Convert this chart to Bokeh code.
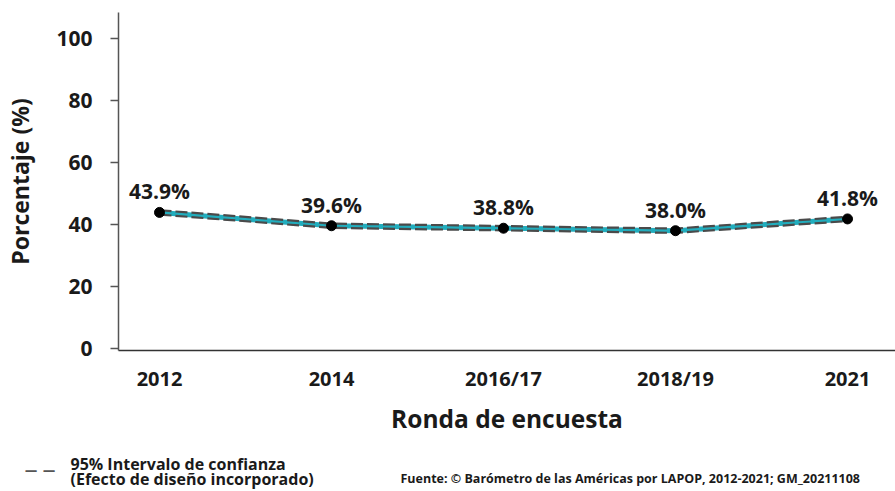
from bokeh.plotting import figure
from bokeh.models import ColumnDataSource, FixedTicker, Range1d, Label, LabelSet
from bokeh.layouts import column
from bokeh.core.properties import value
from bokeh.embed import file_html
from bokeh.resources import INLINE

# ---- data ----
rounds = ["2012", "2014", "2016/17", "2018/19", "2021"]
pct = [43.9, 39.6, 38.8, 38.0, 41.8]
ci_low = [43.2, 38.9, 38.1, 37.3, 41.1]
ci_high = [44.6, 40.3, 39.5, 38.7, 42.5]
y_ticks = [0, 20, 40, 60, 80, 100]

FONT = "Open Sans"
TXT = "#1a1a1a"
xs = list(range(len(rounds)))
src = ColumnDataSource(dict(x=xs, y=pct, lo=ci_low, hi=ci_high,
                            lab=[f"{v:.1f}%" for v in pct]))

p = figure(width=895, height=440, output_backend="svg", toolbar_location=None,
           x_range=Range1d(-0.2384, 4.279), y_range=Range1d(-0.65, 108.4),
           min_border_left=118, min_border_right=0, min_border_top=12,
           min_border_bottom=90)
p.frame_align = False
p.outline_line_color = None
p.xgrid.grid_line_color = None
p.ygrid.grid_line_color = None

# lines
p.line("x", "y", source=src, line_color="#22adbd", line_width=5)
p.line("x", "lo", source=src, line_color="#4a4a4a", line_width=2.2, line_dash="12 4")
p.line("x", "hi", source=src, line_color="#4a4a4a", line_width=2.2, line_dash="12 4")
p.scatter("x", "y", source=src, size=10, fill_color="black", line_color="black")

p.add_layout(LabelSet(x="x", y="y", text="lab", source=src, y_offset=21,
                      text_align="center", text_baseline="middle",
                      text_font=value(FONT), text_font_size=value("21px"),
                      text_font_style=value("bold"), text_color=value(TXT)))

# x axis
xa = p.xaxis[0]
xa.ticker = FixedTicker(ticks=xs)
xa.major_label_overrides = {i: r for i, r in zip(xs, rounds)}
xa.major_tick_line_color = None
xa.minor_tick_line_color = None
xa.major_tick_out = 0
xa.major_tick_in = 0
xa.axis_line_color = "#333333"
xa.axis_line_width = 1.5
xa.major_label_text_font = FONT
xa.major_label_text_font_size = "20px"
xa.major_label_text_font_style = "bold"
xa.major_label_text_color = TXT
xa.major_label_standoff = 14
xa.axis_label = "Ronda de encuesta"
xa.axis_label_text_font = FONT
xa.axis_label_text_font_size = "24.5px"
xa.axis_label_text_font_style = "bold"
xa.axis_label_text_color = TXT
xa.axis_label_standoff = 7

# y axis
ya = p.yaxis[0]
ya.ticker = FixedTicker(ticks=y_ticks)
ya.minor_tick_line_color = None
ya.major_tick_out = 8
ya.major_tick_in = 0
ya.major_tick_line_color = "#555555"
ya.major_tick_line_width = 1.5
ya.axis_line_color = "#555555"
ya.axis_line_width = 1.5
ya.major_label_text_font = FONT
ya.major_label_text_font_size = "21px"
ya.major_label_text_font_style = "bold"
ya.major_label_text_color = TXT
ya.major_label_standoff = 18
ya.axis_label = "Porcentaje (%)"
ya.axis_label_text_font = FONT
ya.axis_label_text_font_size = "23px"
ya.axis_label_text_font_style = "bold"
ya.axis_label_text_color = TXT
ya.axis_label_standoff = 17

# footer figure: legend note and source
f = figure(width=895, height=51, output_backend="svg", toolbar_location=None,
           x_range=Range1d(0, 895), y_range=Range1d(0, 51),
           min_border=0, x_axis_location=None, y_axis_location=None)
f.frame_align = False
f.outline_line_color = None
f.xgrid.grid_line_color = None
f.ygrid.grid_line_color = None
f.add_layout(Label(x=25, y=34, x_units="screen", y_units="screen",
                   text="_ _", text_font=FONT, text_font_size="27px",
                   text_font_style="bold", text_color="#555555",
                   text_baseline="alphabetic"))
f.add_layout(Label(x=70, y=28, x_units="screen", y_units="screen",
                   text="95% Intervalo de confianza", text_font=FONT,
                   text_font_size="16px", text_font_style="bold",
                   text_color=TXT, text_baseline="middle"))
f.add_layout(Label(x=70, y=12.5, x_units="screen", y_units="screen",
                   text="(Efecto de diseño incorporado)", text_font=FONT,
                   text_font_size="16px", text_font_style="bold",
                   text_color=TXT, text_baseline="middle"))
f.add_layout(Label(x=400, y=13, x_units="screen", y_units="screen",
                   text="Fuente: © Barómetro de las Américas por LAPOP, 2012-2021; GM_20211108",
                   text_font=FONT, text_font_size="12.5px", text_font_style="bold",
                   text_color=TXT, text_baseline="middle"))

open("out.html", "w").write(file_html(column(p, f), INLINE))
